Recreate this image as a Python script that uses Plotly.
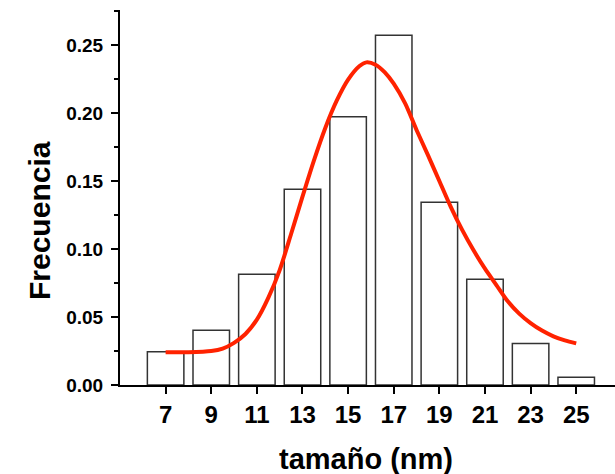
import plotly.graph_objects as go

# Histogram data
size_nm = [7, 9, 11, 13, 15, 17, 19, 21, 23, 25]
frequency = [0.0245, 0.0402, 0.0814, 0.1439, 0.1973, 0.2571, 0.1343, 0.0777, 0.0306, 0.0057]

# Fitted curve
fit_x = [7.0, 8.0, 9.0, 9.5, 10.0, 10.5, 11.0, 11.5, 12.0, 12.5, 13.0, 13.5, 14.0,
         14.5, 15.0, 15.5, 15.8, 16.2, 16.6, 17.0, 17.5, 18.0, 18.5, 19.0, 19.5,
         20.0, 20.5, 21.0, 21.5, 22.0, 22.5, 23.0, 23.5, 24.0, 24.5, 25.0]
fit_y = [0.0240, 0.0241, 0.0250, 0.0268, 0.0310, 0.0375, 0.0480, 0.0640, 0.0845, 0.1110,
         0.1385, 0.1650, 0.1890, 0.2090, 0.2245, 0.2345, 0.2372, 0.2355, 0.2300, 0.2215,
         0.2070, 0.1875, 0.1690, 0.1500, 0.1310, 0.1140, 0.0990, 0.0855, 0.0735, 0.0615,
         0.0525, 0.0455, 0.0400, 0.0358, 0.0328, 0.0306]

x_ticks = [7, 9, 11, 13, 15, 17, 19, 21, 23, 25]
y_ticks = [0.00, 0.05, 0.10, 0.15, 0.20, 0.25]
y_tick_labels = ["0.00", "0.05", "0.10", "0.15", "0.20", "0.25"]

FONT = "Liberation Sans, Arial, sans-serif"

fig = go.Figure()
fig.add_trace(go.Bar(
    x=size_nm, y=frequency, width=1.6,
    marker=dict(color="white", line=dict(color="#333333", width=1.5)),
    showlegend=False,
))
fig.add_trace(go.Scatter(
    x=fit_x, y=fit_y, mode="lines",
    line=dict(color="#ff2200", width=4, shape="spline", smoothing=0.8),
    showlegend=False,
))

fig.update_layout(
    width=615, height=474,
    margin=dict(l=120, r=0, t=10, b=89),
    plot_bgcolor="white", paper_bgcolor="white",
    font=dict(family=FONT, color="black"),
    xaxis=dict(
        range=[5, 26.7], tickvals=x_ticks, ticktext=[str(v) for v in x_ticks],
        ticks="outside", ticklen=7, tickwidth=1.5, tickcolor="black",
        showline=True, linecolor="black", linewidth=2, showgrid=False, zeroline=False,
        tickfont=dict(family=FONT, size=24, color="black", weight="bold"),
    ),
    yaxis=dict(
        range=[0, 0.2757], tickvals=y_ticks, ticktext=y_tick_labels,
        ticks="outside", ticklen=7, tickwidth=1.5, tickcolor="black",
        showline=True, linecolor="black", linewidth=2, showgrid=False, zeroline=False,
        tickfont=dict(family=FONT, size=19, color="black", weight="bold"),
        ticklabelstandoff=4,
        minor=dict(dtick=0.025, ticks="outside", ticklen=4, tickwidth=1.5, tickcolor="black", showgrid=False),
    ),
    annotations=[
        dict(text="<b>Frecuencia</b>", xref="paper", yref="paper",
             x=(39 - 120) / 495, y=(385 - 221) / 375, xanchor="center", yanchor="middle",
             textangle=-90, showarrow=False, font=dict(family=FONT, size=30, color="black")),
        dict(text="<b>tamaño (nm)</b>", xref="paper", yref="paper",
             x=(366 - 120) / 495, y=(385 - 459) / 375, xanchor="center", yanchor="middle",
             showarrow=False, font=dict(family=FONT, size=29, color="black")),
    ],
)

fig.write_html("out.html")
